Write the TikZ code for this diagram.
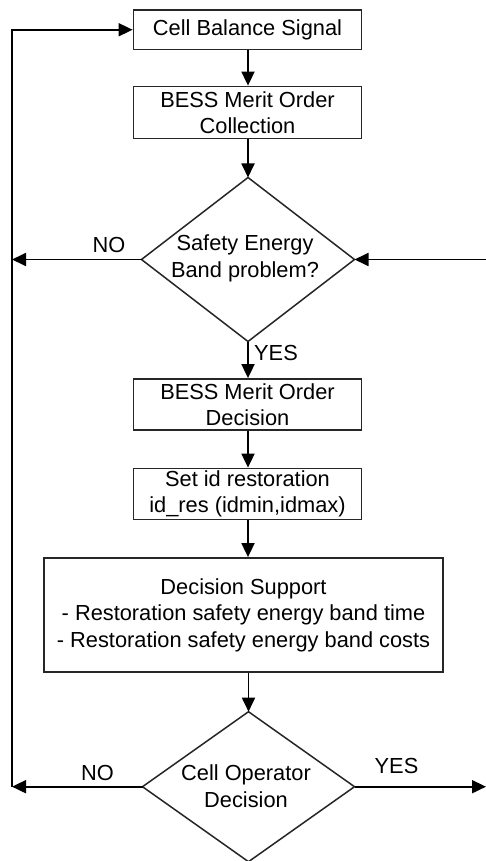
\documentclass[tikz,border=0pt]{standalone}
\usepackage{fontspec}
\setmainfont{Liberation Sans}
\usetikzlibrary{shapes.geometric,arrows.meta}
\tikzset{
  txt/.style={font=\fontsize{21.8}{26.5}\selectfont, align=center, inner sep=0pt, text=black},
  boxnode/.style={txt, draw=black!85, line width=1.8pt, rectangle, minimum width=228pt},
  dia/.style={draw=black!85, line width=1.5pt, shape=diamond, inner sep=0pt, outer sep=0pt},
  arr/.style={line width=1.8pt, draw=black, -{Triangle[length=14pt,width=13pt]}},
  ln/.style={line width=1.8pt, draw=black},
}
\begin{document}
\begin{tikzpicture}[x=1pt,y=-1pt]
\useasboundingbox (0,0) rectangle (486,861);
\fill[white] (0,0) rectangle (486,861);
% boxes
\node[boxnode, minimum height=39.5pt] (b1) at (247.5,29.75) {Cell Balance Signal};
\node[boxnode, minimum height=52pt] (b2) at (247.5,112.5) {BESS Merit Order\\Collection};
\node[dia, minimum width=213pt, minimum height=164pt] (d1) at (248,259.5) {};
\node[txt] (d1t) at (245,258.5) {Safety Energy\\Band problem?};
\node[boxnode, minimum height=51pt] (b3) at (247.5,404.5) {BESS Merit Order\\Decision};
\node[boxnode, minimum height=51pt] (b4) at (247.5,494) {Set id restoration\\id\_res (idmin,idmax)};
\node[boxnode, minimum width=399pt, minimum height=114pt] (b5) at (243.5,615) {Decision Support\\- Restoration safety energy band time\\- Restoration safety energy band costs};
\node[dia, minimum width=212pt, minimum height=150pt] (d2) at (248.5,786.7) {};
\node[txt] (d2t) at (246,786) {Cell Operator\\Decision};
% labels
\node[txt] (no1) at (109,245) {NO};
\node[txt] (yes1) at (276,353) {YES};
\node[txt] (no2) at (97.5,773) {NO};
\node[txt] (yes2) at (396.5,766) {YES};
% coordinates
\coordinate (lb) at (12,786.7);
\coordinate (lm) at (12,259.5);
\coordinate (lt) at (12,29.75);
\coordinate (rin) at (487,259.5);
\coordinate (rout) at (486,786.7);
% connectors
\draw[arr] (b1.south -| d1.north) -- (b2.north -| d1.north);
\draw[arr] (b2.south -| d1.north) -- (d1.north);
\draw[arr] (d1.south) -- (b3.north -| d1.south);
\draw[arr] (b3.south -| d1.south) -- (b4.north -| d1.south);
\draw[arr] (b4.south -| d1.south) -- (b5.north -| d1.south);
\draw[arr] (b5.south -| d2.north) -- (d2.north);
\draw[arr] (d1.west) -- (lm);
\draw[arr] (rin) -- (d1.east);
\draw[arr] (d2.west) -- (lb);
\draw[arr] (d2.east) -- (rout);
\draw[arr] (lb) -- (lt) -- (b1.west);
\end{tikzpicture}
\end{document}
